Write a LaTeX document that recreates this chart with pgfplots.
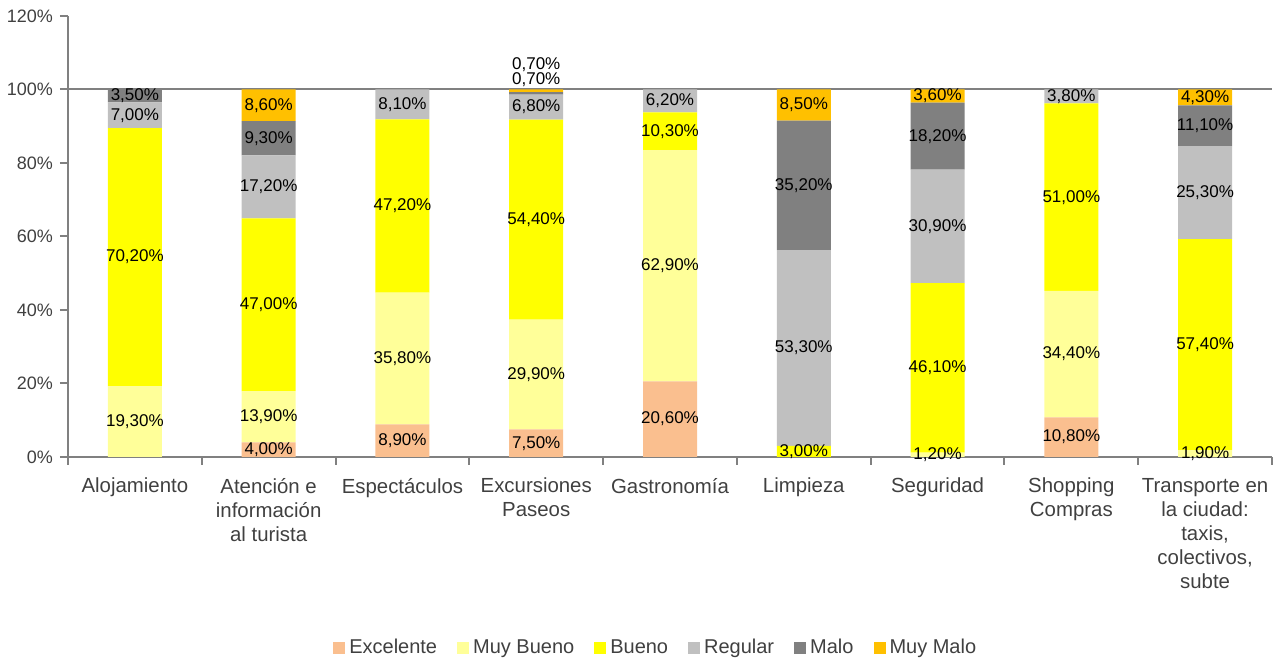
\documentclass[border=0pt]{standalone}
\usepackage{pgfplots}
\pgfplotsset{compat=1.18}
\usepackage{fontspec}
\setmainfont{Liberation Sans}
\definecolor{cExc}{RGB}{250,191,143}
\definecolor{cMB}{RGB}{255,255,153}
\definecolor{cB}{RGB}{255,255,0}
\definecolor{cReg}{RGB}{192,192,192}
\definecolor{cMalo}{RGB}{128,128,128}
\definecolor{cMM}{RGB}{255,192,0}
\definecolor{axisgray}{RGB}{128,128,128}
\definecolor{txt}{RGB}{64,64,64}
\begin{document}
\begin{tikzpicture}
\useasboundingbox (-34pt,-103pt) rectangle (606pt,228.5pt);
\begin{axis}[
  at={(0,0)}, anchor=south west,
  scale only axis, width=602pt, height=220.5pt,
  ybar stacked, bar width=27pt,
  xmin=-0.5, xmax=8.5, ymin=0, ymax=120,
  ytick={0,20,...,120},
  yticklabel={\pgfmathprintnumber{\tick}\%},
  xtick={0,...,8},
  xticklabels={Alojamiento,{Atención e\\información\\al turista},Espectáculos,{Excursiones\\Paseos},Gastronomía,Limpieza,Seguridad,{Shopping\\Compras},{Transporte en\\la ciudad:\\taxis,\\colectivos,\\subte}},
  minor xtick={-0.5,0.5,...,8.5},
  major x tick style={draw=none},
  tick align=outside, tick pos=left,
  major tick length=4pt, minor tick length=4pt,
  every tick/.style={axisgray, line width=1pt},
  axis x line*=bottom, axis y line*=left,
  axis line style={axisgray, line width=1pt, -},
  x tick label style={align=center, font=\fontsize{10.2}{12}\selectfont, text=txt, yshift=-3pt},
  y tick label style={font=\fontsize{9}{11}\selectfont, text=txt},
  /pgf/number format/assume math mode=true,
  extra y ticks={100}, extra y tick labels={},
  extra y tick style={grid=major, major grid style={axisgray, line width=1pt}, tick style={draw=none}},
  visualization depends on=rawx\as\rawxv,
  nodes near coords={\pgfmathfloatifflags{\pgfplotspointmeta}{0}{}{\pgfmathprintnumber[fixed,fixed zerofill,precision=2,use comma,assume math mode=true]{\pgfplotspointmeta}\%}},
  every node near coord/.append style={anchor=center, font=\fontsize{8.5}{10}\selectfont, text=black},
  legend style={at={(0.489,-0.433)}, anchor=center, draw=none, legend columns=6, font=\fontsize{10}{12}\selectfont, text=txt, /tikz/every even column/.append style={column sep=8pt}},
  legend image code/.code={\fill[#1] (0pt,-3pt) rectangle (6pt,3pt);},
]
\addplot[fill=cExc, draw=none] coordinates {(0,0) (1,4.0) (2,8.9) (3,7.5) (4,20.6) (5,0) (6,0) (7,10.8) (8,0)};
\addlegendentry{Excelente}
\addplot[fill=cMB, draw=none] coordinates {(0,19.3) (1,13.9) (2,35.8) (3,29.9) (4,62.9) (5,0) (6,1.2) (7,34.4) (8,1.9)};
\addlegendentry{Muy Bueno}
\addplot[fill=cB, draw=none] coordinates {(0,70.2) (1,47.0) (2,47.2) (3,54.4) (4,10.3) (5,3.0) (6,46.1) (7,51.0) (8,57.4)};
\addlegendentry{Bueno}
\addplot[fill=cReg, draw=none] coordinates {(0,7.0) (1,17.2) (2,8.1) (3,6.8) (4,6.2) (5,53.3) (6,30.9) (7,3.8) (8,25.3)};
\addlegendentry{Regular}
\addplot[fill=cMalo, draw=none, every node near coord/.append style={yshift={ifthenelse(\rawxv==3,7,0)}}] coordinates {(0,3.5) (1,9.3) (2,0) (3,0.7) (4,0) (5,35.2) (6,18.2) (7,0) (8,11.1)};
\addlegendentry{Malo}
\addplot[fill=cMM, draw=none, every node near coord/.append style={yshift={ifthenelse(\rawxv==3,13,0)}}] coordinates {(0,0) (1,8.6) (2,0) (3,0.7) (4,0) (5,8.5) (6,3.6) (7,0) (8,4.3)};
\addlegendentry{Muy Malo}
\end{axis}
\end{tikzpicture}
\end{document}
